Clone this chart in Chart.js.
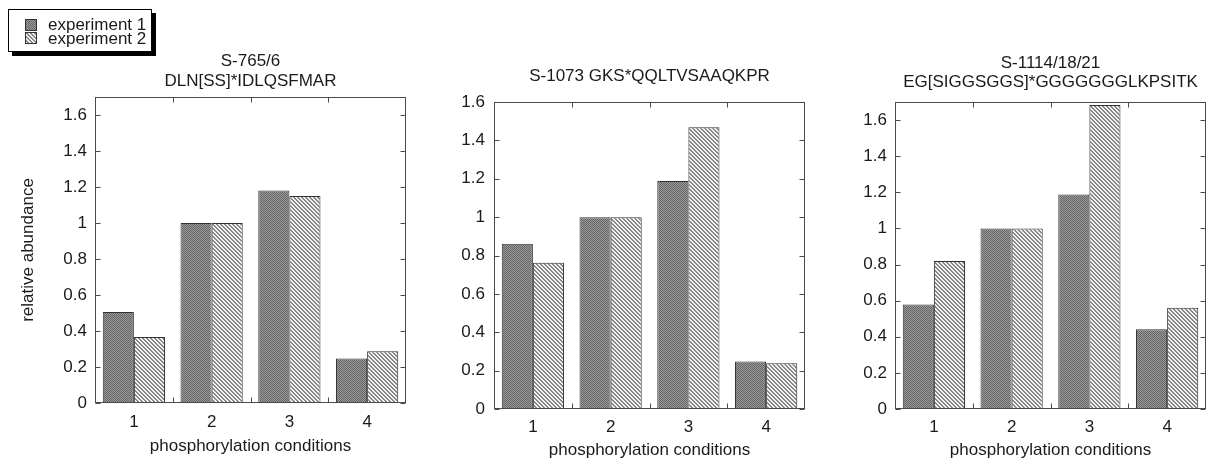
<!DOCTYPE html>
<html>
<head>
<meta charset="utf-8">
<script src="https://cdn.jsdelivr.net/npm/chart.js@4.4.1/dist/chart.umd.min.js"></script>
<style>
  body { margin: 0; background: #fff; width: 1212px; height: 466px; position: relative; overflow: hidden;
         font-family: "Liberation Sans", Arial, sans-serif; color: #1a1a1a; }
  canvas.panel { position: absolute; top: 0; }
  #legend { position: absolute; left: 8px; top: 9px; width: 142px; height: 41px; border: 1px solid #000;
            box-shadow: 4px 4px 0 #000; background: #fff; z-index: 2; }
  .sw { position: absolute; left: 16px; width: 12px; height: 12px; }
  .lbl { position: absolute; left: 39px; font-size: 17px; line-height: 14px; white-space: nowrap; }
</style>
</head>
<body>
<div id="legend">
  <canvas class="sw" id="sw1" width="12" height="12" style="top:9px"></canvas>
  <div class="lbl" style="top:8px">experiment 1</div>
  <canvas class="sw" id="sw2" width="12" height="12" style="top:22px"></canvas>
  <div class="lbl" style="top:22px">experiment 2</div>
</div>
<canvas class="panel" id="p1" width="420" height="466" style="left:0px"></canvas>
<canvas class="panel" id="p2" width="400" height="466" style="left:420px"></canvas>
<canvas class="panel" id="p3" width="392" height="466" style="left:820px"></canvas>
<script>
// data
const conditions = ['1', '2', '3', '4'];
const seriesNames = ['experiment 1', 'experiment 2'];

const titleA = ['S-765/6', 'DLN[SS]*IDLQSFMAR'];
const titleB = ['S-1073 GKS*QQLTVSAAQKPR'];
const titleC = ['S-1114/18/21', 'EG[SIGGSGGS]*GGGGGGGLKPSITK'];

const exp1A = [0.505, 1.0, 1.18, 0.247];
const exp2A = [0.366, 1.0, 1.15, 0.288];
const exp1B = [0.861, 1.0, 1.188, 0.247];
const exp2B = [0.762, 1.0, 1.469, 0.238];
const exp1C = [0.579, 1.0, 1.188, 0.442];
const exp2C = [0.82, 1.0, 1.683, 0.56];

const yMaxA = 1.7, yMaxB = 1.6, yMaxC = 1.7;
const yStep = 0.2;
const xAxisTitle = 'phosphorylation conditions';
const yAxisTitle = 'relative abundance';

const fontFam = '"Liberation Sans", Arial, sans-serif';
const textColor = '#1a1a1a';
const frameColor = '#4a4a4a';

// fill patterns for the two experiments
function makePattern(kind) {
    const tile = document.createElement('canvas');
    tile.width = 4; tile.height = 4;
    const c = tile.getContext('2d');
    for (let y = 0; y < 4; y++) {
        for (let x = 0; x < 4; x++) {
            if (kind === 1) {
                c.fillStyle = (x + y) % 2 === 0 ? '#666666' : '#999999';
            } else {
                const d = ((x - y) % 4 + 4) % 4;
                c.fillStyle = d < 2 ? '#878787' : '#f2f2f2';
            }
            c.fillRect(x, y, 1, 1);
        }
    }
    return c.createPattern(tile, 'repeat');
}
const pat1 = makePattern(1);
const pat2 = makePattern(2);

// legend swatches
[['sw1', pat1], ['sw2', pat2]].forEach(([id, p]) => {
    const c = document.getElementById(id).getContext('2d');
    c.fillStyle = p; c.fillRect(0, 0, 12, 12);
    c.strokeStyle = '#333'; c.lineWidth = 1; c.strokeRect(0.5, 0.5, 11, 11);
});

// box around the plot with inward ticks on all four sides, plus the title centred on the plot
const framePlugin = {
    id: 'frame',
    afterDatasetsDraw(chart, args, opts) {
        const {ctx, chartArea: a, scales: {x, y}} = chart;
        const L = Math.round(a.left) + 0.5, R = Math.round(a.right) - 0.5;
        const T = Math.round(a.top) + 0.5, B = Math.round(a.bottom) - 0.5;
        ctx.save();
        ctx.strokeStyle = frameColor;
        ctx.lineWidth = 1;
        ctx.strokeRect(L, T, R - L, B - T);
        ctx.beginPath();
        y.ticks.forEach(t => {
            const py = Math.round(y.getPixelForValue(t.value)) + 0.5;
            ctx.moveTo(L, py); ctx.lineTo(L + 5, py);
            ctx.moveTo(R, py); ctx.lineTo(R - 5, py);
        });
        for (let i = 0; i < x.ticks.length - 1; i++) {
            const px = Math.round((x.getPixelForTick(i) + x.getPixelForTick(i + 1)) / 2) + 0.5;
            ctx.moveTo(px, B); ctx.lineTo(px, B - 5);
            ctx.moveTo(px, T); ctx.lineTo(px, T + 5);
        }
        ctx.stroke();

        ctx.fillStyle = textColor;
        ctx.font = '17px ' + fontFam;
        ctx.textAlign = 'center';
        ctx.textBaseline = 'alphabetic';
        opts.lines.forEach((s, i) => ctx.fillText(s, (a.left + a.right) / 2, opts.baselines[i]));
        ctx.restore();
    }
};

function makePanel(id, title, e1, e2, yMax, lay) {
    new Chart(document.getElementById(id), {
        type: 'bar',
        data: {
            labels: conditions,
            datasets: [
                {label: seriesNames[0], data: e1, backgroundColor: pat1, borderColor: '#333', borderWidth: 1,
                 borderSkipped: false, categoryPercentage: 0.8, barPercentage: 1.0},
                {label: seriesNames[1], data: e2, backgroundColor: pat2, borderColor: '#333', borderWidth: 1,
                 borderSkipped: false, categoryPercentage: 0.8, barPercentage: 1.0}
            ]
        },
        options: {
            responsive: false,
            animation: false,
            layout: {padding: {left: 0, right: lay.right, top: lay.top, bottom: 0}},
            plugins: {
                legend: {display: false},
                tooltip: {enabled: false},
                frame: {lines: title, baselines: lay.baselines}
            },
            scales: {
                x: {
                    grid: {display: false, drawTicks: false},
                    border: {display: false},
                    ticks: {color: textColor, padding: lay.xPad, font: {family: fontFam, size: 17}},
                    title: {display: true, text: xAxisTitle, color: textColor,
                            font: {family: fontFam, size: 17}, padding: {top: 0, bottom: lay.xTitleBottom}},
                    afterFit(s) { s.height = lay.xHeight; }
                },
                y: {
                    min: 0, max: yMax,
                    grid: {display: false, drawTicks: false},
                    border: {display: false},
                    ticks: {stepSize: yStep, includeBounds: false, color: textColor, padding: lay.yPad,
                            font: {family: fontFam, size: 17},
                            callback: v => String(Math.round(v * 10) / 10)},
                    title: {display: lay.yTitle, text: yAxisTitle, color: textColor,
                            font: {family: fontFam, size: 17}, padding: {top: 18, bottom: 0}},
                    afterFit(s) { s.width = lay.yWidth; }
                }
            }
        },
        plugins: [framePlugin]
    });
}

makePanel('p1', titleA, exp1A, exp2A, yMaxA,
    {right: 14, top: 97, baselines: [66, 85.5], xPad: 9, xTitleBottom: 9, xHeight: 63, yPad: 8, yWidth: 95, yTitle: true});
makePanel('p2', titleB, exp1B, exp2B, yMaxB,
    {right: 15, top: 102, baselines: [80.5], xPad: 8, xTitleBottom: 5, xHeight: 57, yPad: 9, yWidth: 74, yTitle: false});
makePanel('p3', titleC, exp1C, exp2C, yMaxC,
    {right: 6, top: 102, baselines: [67.5, 86.5], xPad: 8, xTitleBottom: 5, xHeight: 57, yPad: 8, yWidth: 75, yTitle: false});
</script>
</body>
</html>
